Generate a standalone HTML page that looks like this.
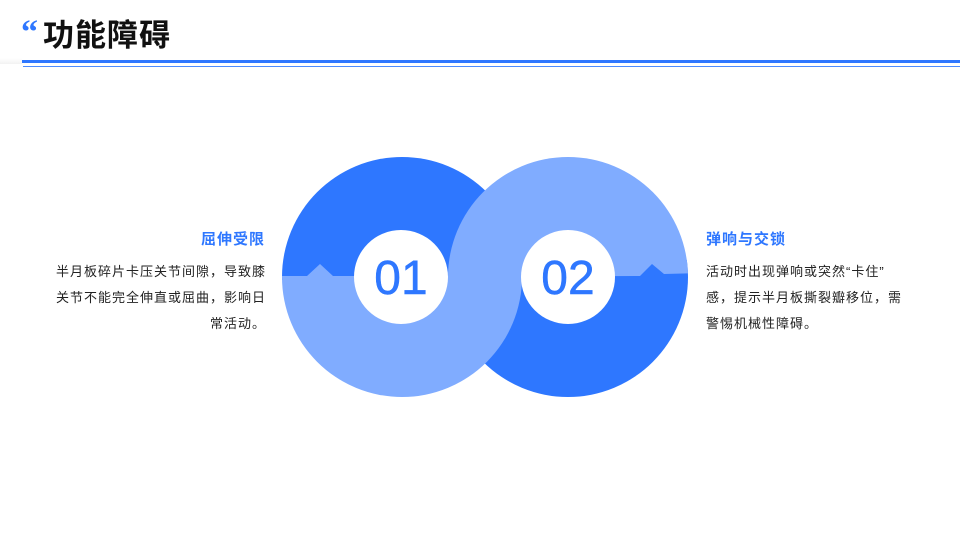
<!DOCTYPE html>
<html><head><meta charset="utf-8"><style>
body{margin:0;width:960px;height:540px;background:#fff;position:relative;overflow:hidden;font-family:"Liberation Sans","Noto Sans CJK SC",sans-serif}
.t{position:absolute;white-space:nowrap}
</style></head><body>
<div class="t" style="left:21px;top:18px;font-size:34px;font-weight:900;color:#2e77ff;line-height:30px;font-family:'Liberation Serif',serif">“</div>
<div class="t" style="left:43px;top:17px;font-size:31px;letter-spacing:1px;font-weight:bold;color:#111;line-height:38px">功能障碍</div>
<div style="position:absolute;left:0;top:58px;width:22px;height:6px;background:linear-gradient(#fff,#f2f2f2)"></div>
<div style="position:absolute;left:22px;top:60px;width:938px;height:3px;background:#2e77ff"></div>
<div style="position:absolute;left:23px;top:66px;width:937px;height:1px;background:#4d8cff"></div>

<svg style="position:absolute;left:0;top:0" width="960" height="540">
<defs>
<clipPath id="c1"><circle cx="402" cy="277" r="120"/></clipPath>
<clipPath id="c2"><circle cx="568" cy="277" r="120"/></clipPath>
</defs>
<g clip-path="url(#c1)"><rect x="270" y="150" width="270" height="130" fill="#2e77ff"/></g>
<g clip-path="url(#c2)"><rect x="440" y="260" width="260" height="150" fill="#2e77ff"/>
<polygon points="640,277 652,264 664,275" fill="#2e77ff"/></g>
<g clip-path="url(#c1)"><polygon points="270,276 307,276 320,264 333,276 540,276 540,410 270,410" fill="#80acff"/></g>
<g clip-path="url(#c2)"><polygon points="440,150 700,150 700,273 664,274 652,264 640,276 440,277" fill="#80acff"/></g>
<circle cx="401" cy="277" r="47" fill="#fff"/>
<circle cx="568" cy="277" r="47" fill="#fff"/>
<text x="401" y="294" text-anchor="middle" font-size="48" fill="#2e77ff" stroke="#2e77ff" stroke-width="0.5" font-family="Liberation Sans, sans-serif">01</text>
<text x="568" y="294" text-anchor="middle" font-size="48" fill="#2e77ff" stroke="#2e77ff" stroke-width="0.5" font-family="Liberation Sans, sans-serif">02</text>
</svg>

<div class="t" style="right:695px;top:228px;font-size:15px;letter-spacing:1px;font-weight:bold;color:#2e77ff">屈伸受限</div>
<div class="t" style="right:694px;top:259px;font-size:13px;letter-spacing:1px;color:#222;line-height:26px;text-align:right">半月板碎片卡压关节间隙，导致膝<br>关节不能完全伸直或屈曲，影响日<br>常活动。</div>
<div class="t" style="left:706px;top:228px;font-size:15px;letter-spacing:1px;font-weight:bold;color:#2e77ff">弹响与交锁</div>
<div class="t" style="left:706px;top:259px;font-size:13px;letter-spacing:1px;color:#222;line-height:26px">活动时出现弹响或突然“卡住”<br>感，提示半月板撕裂瓣移位，需<br>警惕机械性障碍。</div>
</body></html>
